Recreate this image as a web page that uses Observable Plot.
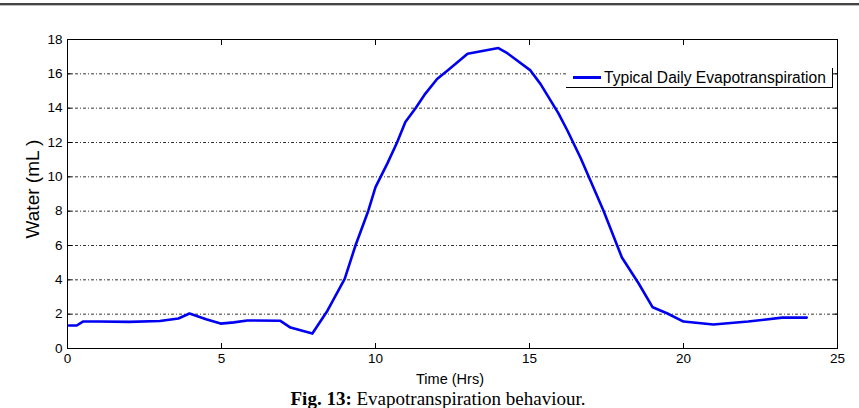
<!DOCTYPE html>
<html>
<head>
<meta charset="utf-8">
<script src="https://cdn.jsdelivr.net/npm/d3@7"></script>
<script src="https://cdn.jsdelivr.net/npm/@observablehq/plot@0.6"></script>
<style>
  html, body { margin: 0; padding: 0; background: #fff; }
  #wrap { position: relative; width: 859px; height: 408px; overflow: hidden; font-family: "Liberation Sans", Arial, sans-serif; }
  #rule { position: absolute; left: 0; top: 3px; width: 859px; height: 2px; background: #444; }
  #rule2 { position: absolute; left: 0; top: 5px; width: 859px; height: 1px; background: #bbb; }
  .lab { position: absolute; color: #000; white-space: nowrap; line-height: 1; }
  #legend { position: absolute; left: 566px; top: 68px; width: 267px; height: 20px; background: #fff; border-right: 1px solid #000; border-bottom: 1px solid #000; box-sizing: border-box; font-size: 15.6px; line-height: 1; }
  #legend .sw { position: absolute; left: 7px; top: 8px; width: 28px; height: 3px; background: #0000f0; }
  #legend .tx { position: absolute; left: 38px; top: 2px; }
  #caption { position: absolute; left: 0; width: 876px; text-align: center; top: 389px; font-family: "Liberation Serif", "Times New Roman", serif; font-size: 19px; line-height: 1; }
</style>
</head>
<body>
<div id="wrap"></div>
<script>
const hours = [0.05, 0.3, 0.5, 1, 2, 3, 3.6, 3.96, 4.5, 4.97, 5.4, 5.84, 6.9, 7.24, 7.95, 8.44, 9.0, 9.35, 9.77, 10.0, 10.39, 10.7, 10.97, 11.3, 11.62, 12.0, 12.34, 12.99, 13.99, 14.28, 15.03, 15.36, 15.94, 16.23, 16.66, 17.4, 18.0, 18.54, 19.0, 19.48, 20.0, 20.97, 22.1, 23.2, 24.0];
const water = [1.34, 1.34, 1.57, 1.57, 1.55, 1.6, 1.75, 2.04, 1.7, 1.45, 1.52, 1.63, 1.62, 1.22, 0.87, 2.2, 4.05, 6.0, 8.04, 9.4, 10.8, 12.0, 13.2, 14.0, 14.85, 15.7, 16.2, 17.17, 17.5, 17.2, 16.2, 15.4, 13.7, 12.7, 11.1, 8.04, 5.3, 3.8, 2.4, 2.04, 1.57, 1.40, 1.57, 1.8, 1.8];
const xTicks = [0, 5, 10, 15, 20, 25];
const yTicks = [0, 2, 4, 6, 8, 10, 12, 14, 16, 18];
const seriesName = "Typical Daily Evapotranspiration";
const xLabel = "Time (Hrs)";
const yLabel = "Water (mL )";

const data = hours.map((h, i) => ({hour: h, water: water[i]}));

const chart = Plot.plot({
  width: 859,
  height: 408,
  marginLeft: 67,
  marginRight: 22,
  marginTop: 39,
  marginBottom: 60,
  style: {fontFamily: "Liberation Sans, Arial, sans-serif", fontSize: "13px", color: "#000", background: "#fff"},
  x: {domain: [0, 25]},
  y: {domain: [0, 18]},
  marks: [
    Plot.gridY(yTicks.slice(1, -1), {stroke: "#000", strokeOpacity: 1, strokeWidth: 0.8, strokeDasharray: "3,2,1,2"}),
    Plot.axisX(xTicks, {anchor: "bottom", tickSize: -5, tickPadding: 10, label: null, fontSize: 13.5}),
    Plot.axisX(xTicks, {anchor: "top", tickSize: -5, tickFormat: () => "", label: null}),
    Plot.axisY(yTicks, {anchor: "left", tickSize: -5, tickPadding: 10, label: null, fontSize: 13.5}),
    Plot.axisY(yTicks, {anchor: "right", tickSize: -5, tickFormat: () => "", label: null}),
    Plot.frame({stroke: "#000", strokeWidth: 1}),
    Plot.line(data, {x: "hour", y: "water", stroke: "#0000f0", strokeWidth: 2.6})
  ]
});

const wrap = document.getElementById("wrap");
wrap.appendChild(chart);
chart.style.position = "absolute";
chart.style.left = "0px";
chart.style.top = "0px";

wrap.insertAdjacentHTML("beforeend", `
  <div id="rule"></div><div id="rule2"></div>
  <div id="legend"><div class="sw"></div><div class="tx">${seriesName}</div></div>
  <div class="lab" style="left:450px; top:372px; font-size:14.5px; transform:translateX(-50%);">${xLabel}</div>
  <div class="lab" style="left:32px; top:189px; font-size:19px; transform:translate(-50%,-50%) rotate(-90deg);">${yLabel}</div>
  <div id="caption"><b>Fig. 13:</b> Evapotranspiration behaviour.</div>
`);
</script>
</body>
</html>
